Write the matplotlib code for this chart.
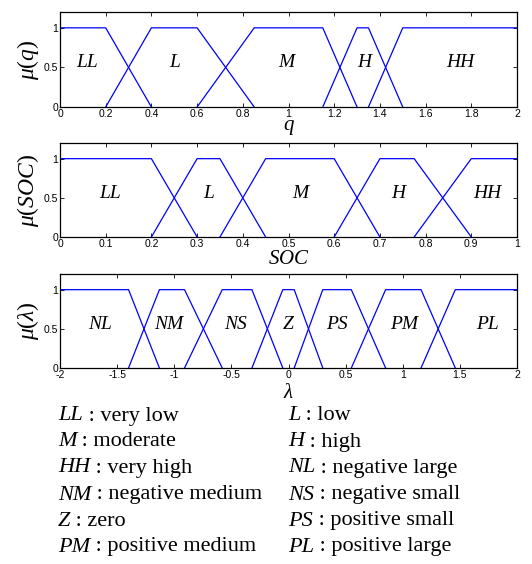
import matplotlib
matplotlib.use('Agg')
import matplotlib.pyplot as plt

plt.rcParams['font.family'] = ['Liberation Serif', 'DejaVu Serif']
plt.rcParams['mathtext.fontset'] = 'custom'
plt.rcParams['mathtext.rm'] = 'Liberation Serif'
plt.rcParams['mathtext.it'] = 'Liberation Serif:italic'

# q membership functions (breakpoints, grades)
q_labels = ['LL', 'L', 'M', 'H', 'HH']
q_x = [[0, 0.2, 0.4], [0.2, 0.4, 0.6, 0.85], [0.6, 0.85, 1.15, 1.3],
       [1.15, 1.3, 1.35, 1.5], [1.35, 1.5, 2.0]]
q_y = [[1, 1, 0], [0, 1, 1, 0], [0, 1, 1, 0], [0, 1, 1, 0], [0, 1, 1]]
q_text_x = [0.12, 0.5, 0.99, 1.33, 1.75]

# SOC membership functions
soc_labels = ['LL', 'L', 'M', 'H', 'HH']
soc_x = [[0, 0.2, 0.3], [0.2, 0.3, 0.35, 0.45], [0.35, 0.45, 0.6, 0.7],
         [0.6, 0.7, 0.775, 0.9], [0.775, 0.9, 1.0]]
soc_y = [[1, 1, 0], [0, 1, 1, 0], [0, 1, 1, 0], [0, 1, 1, 0], [0, 1, 1]]
soc_text_x = [0.11, 0.325, 0.525, 0.74, 0.935]

# lambda membership functions
lam_labels = ['NL', 'NM', 'NS', 'Z', 'PS', 'PM', 'PL']
lam_x = [[-2, -1.4, -1.13], [-1.4, -1.13, -0.91, -0.58],
         [-0.91, -0.58, -0.32, -0.05], [-0.32, -0.05, 0.05, 0.3],
         [0.05, 0.3, 0.55, 0.85], [0.55, 0.85, 1.16, 1.46], [1.16, 1.46, 2.0]]
lam_y = [[1, 1, 0], [0, 1, 1, 0], [0, 1, 1, 0], [0, 1, 1, 0],
         [0, 1, 1, 0], [0, 1, 1, 0], [0, 1, 1]]
lam_text_x = [-1.65, -1.05, -0.46, 0.0, 0.42, 1.01, 1.74]

legend_left = [('LL', 'very low'), ('M', 'moderate'), ('HH', 'very high'),
               ('NM', 'negative medium'), ('Z', 'zero'), ('PM', 'positive medium')]
legend_right = [('L', 'low'), ('H', 'high'), ('NL', 'negative large'),
                ('NS', 'negative small'), ('PS', 'positive small'),
                ('PL', 'positive large')]

W, H = 532, 564
fig = plt.figure(figsize=(W / 100, H / 100), dpi=100)


def panel(top, bottom, xs, ys, labels, text_x, xlim, xticks, xticklabels,
          xlabel, ylabel, xpad):
    ax = fig.add_axes([60 / W, 1 - bottom / H, 457 / W, (bottom - top) / H])
    for px, py in zip(xs, ys):
        ax.plot(px, py, color='#0000ff', lw=0.9)
    for lab, tx in zip(labels, text_x):
        ax.text(tx, 0.56, lab, ha='center', va='center', fontsize=14,
                style='italic')
    ax.set_xlim(*xlim)
    ax.set_ylim(0, 1.2)
    ax.set_xticks(xticks)
    ax.set_xticklabels(xticklabels)
    ax.set_yticks([0, 0.5, 1])
    ax.set_yticklabels(['0', '0.5', '1'])
    ax.tick_params(direction='in', length=3, width=0.6, top=True, right=True,
                   labelsize=7.5, pad=1.5)
    for lbl in ax.get_xticklabels() + ax.get_yticklabels():
        lbl.set_family('Liberation Sans')
    for s in ax.spines.values():
        s.set_linewidth(0.9)
    ax.set_xlabel(xlabel, fontsize=15, labelpad=xpad)
    ax.set_ylabel(ylabel, fontsize=17, labelpad=2)
    return ax


panel(12, 107, q_x, q_y, q_labels, q_text_x, (0, 2),
      [0, 0.2, 0.4, 0.6, 0.8, 1, 1.2, 1.4, 1.6, 1.8, 2],
      ['0', '0.2', '0.4', '0.6', '0.8', '1', '1.2', '1.4', '1.6', '1.8', '2'],
      r'$q$', r'$\mu(q)$', -1)
panel(143, 237, soc_x, soc_y, soc_labels, soc_text_x, (0, 1),
      [0, 0.1, 0.2, 0.3, 0.4, 0.5, 0.6, 0.7, 0.8, 0.9, 1],
      ['0', '0.1', '0.2', '0.3', '0.4', '0.5', '0.6', '0.7', '0.8', '0.9', '1'],
      r'$SOC$', r'$\mu(SOC)$', 1)
ax3 = panel(274, 368, lam_x, lam_y, lam_labels, lam_text_x, (-2, 2),
            [-2, -1.5, -1, -0.5, 0, 0.5, 1, 1.5, 2],
            ['-2', '-1.5', '-1', '-0.5', '0', '0.5', '1', '1.5', '2'],
            r'$\lambda$', r'$\mu(\lambda)$', 3)

row_y = [416, 442, 468, 495, 521, 547]
for col_x, items in ((58, legend_left), (288, legend_right)):
    for (ab, desc), yy in zip(items, row_y):
        t = fig.text(col_x / W, 1 - yy / H, ab, fontsize=16, style='italic',
                     ha='left', va='center')
        ax3.annotate(' : ' + desc, xy=(1, 0), xycoords=t, fontsize=16,
                     ha='left', va='bottom', annotation_clip=False)

fig.savefig('out.png', dpi=100)
